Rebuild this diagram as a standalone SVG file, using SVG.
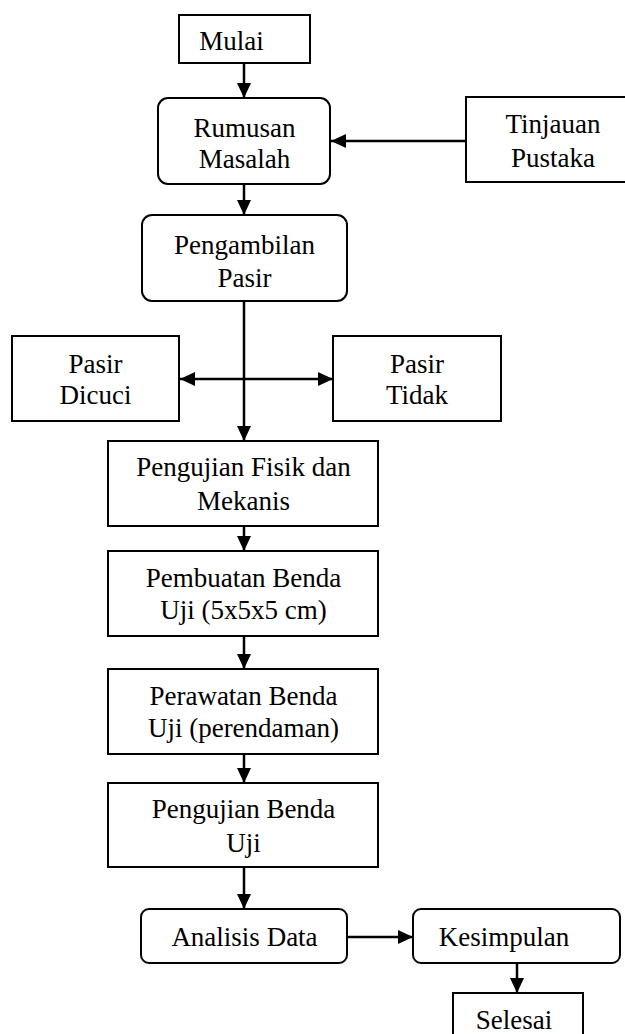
<svg xmlns="http://www.w3.org/2000/svg" width="625" height="1034" viewBox="0 0 625 1034">
<style>
  .box { fill: #ffffff; stroke: #000000; stroke-width: 2; }
  .lbl { font-family: "Liberation Serif", "Times New Roman", serif; font-size: 27px; fill: #000000; text-anchor: middle; }
  .con { stroke: #000000; stroke-width: 2.5; fill: none; }
</style>
<defs>
  <marker id="arr" viewBox="0 0 15 14" refX="15" refY="7" markerWidth="15" markerHeight="14" markerUnits="userSpaceOnUse" orient="auto-start-reverse">
    <path d="M0,0 L15,7 L0,14 Z" fill="#000000"/>
  </marker>
</defs>
<rect width="625" height="1034" fill="#ffffff"/>

<g id="connectors">
  <line class="con" x1="244" y1="63" x2="244" y2="98" marker-end="url(#arr)"/>
  <line class="con" x1="466" y1="141" x2="331" y2="141" marker-end="url(#arr)"/>
  <line class="con" x1="244" y1="184" x2="244" y2="215" marker-end="url(#arr)"/>
  <line class="con" x1="244" y1="301" x2="244" y2="441" marker-end="url(#arr)"/>
  <line class="con" x1="180" y1="379" x2="333" y2="379" marker-start="url(#arr)" marker-end="url(#arr)"/>
  <line class="con" x1="244" y1="526" x2="244" y2="551" marker-end="url(#arr)"/>
  <line class="con" x1="244" y1="636" x2="244" y2="669" marker-end="url(#arr)"/>
  <line class="con" x1="244" y1="754" x2="244" y2="783" marker-end="url(#arr)"/>
  <line class="con" x1="244" y1="867" x2="244" y2="909" marker-end="url(#arr)"/>
  <line class="con" x1="347" y1="937" x2="413" y2="937" marker-end="url(#arr)"/>
  <line class="con" x1="517" y1="963" x2="517" y2="993" marker-end="url(#arr)"/>
</g>

<g id="mulai">
  <rect class="box" x="179" y="15" width="131" height="48"/>
  <text class="lbl" x="231.5" y="50">Mulai</text>
</g>
<g id="rumusan">
  <rect class="box" x="158" y="98" width="172" height="86" rx="10"/>
  <text class="lbl" x="244.5" y="137">Rumusan</text>
  <text class="lbl" x="244.5" y="168">Masalah</text>
</g>
<g id="tinjauan">
  <rect class="box" x="466" y="97" width="174" height="85"/>
  <text class="lbl" x="553" y="133">Tinjauan</text>
  <text class="lbl" x="553" y="167">Pustaka</text>
</g>
<g id="pengambilan">
  <rect class="box" x="142" y="215" width="205" height="86" rx="10"/>
  <text class="lbl" x="244.5" y="254">Pengambilan</text>
  <text class="lbl" x="244.5" y="287">Pasir</text>
</g>
<g id="pasir-dicuci">
  <rect class="box" x="12" y="336" width="167" height="85"/>
  <text class="lbl" x="95.5" y="373">Pasir</text>
  <text class="lbl" x="95.5" y="404">Dicuci</text>
</g>
<g id="pasir-tidak">
  <rect class="box" x="333" y="336" width="168" height="85"/>
  <text class="lbl" x="417" y="373">Pasir</text>
  <text class="lbl" x="417" y="404">Tidak</text>
</g>
<g id="pengujian-fisik">
  <rect class="box" x="108" y="441" width="270" height="85"/>
  <text class="lbl" x="243.5" y="476">Pengujian Fisik dan</text>
  <text class="lbl" x="243.5" y="510">Mekanis</text>
</g>
<g id="pembuatan">
  <rect class="box" x="108" y="551" width="270" height="85"/>
  <text class="lbl" x="243.5" y="587">Pembuatan Benda</text>
  <text class="lbl" x="243.5" y="619">Uji (5x5x5 cm)</text>
</g>
<g id="perawatan">
  <rect class="box" x="108" y="669" width="270" height="85"/>
  <text class="lbl" x="243.5" y="705">Perawatan Benda</text>
  <text class="lbl" x="243.5" y="737">Uji (perendaman)</text>
</g>
<g id="pengujian-benda">
  <rect class="box" x="108" y="783" width="270" height="84"/>
  <text class="lbl" x="243.5" y="818">Pengujian Benda</text>
  <text class="lbl" x="243.5" y="852">Uji</text>
</g>
<g id="analisis">
  <rect class="box" x="141" y="909" width="206" height="54" rx="8"/>
  <text class="lbl" x="244.5" y="946">Analisis Data</text>
</g>
<g id="kesimpulan">
  <rect class="box" x="413" y="909" width="207" height="54" rx="8"/>
  <text class="lbl" x="504" y="946">Kesimpulan</text>
</g>
<g id="selesai">
  <rect class="box" x="453" y="993" width="130" height="50"/>
  <text class="lbl" x="514" y="1029">Selesai</text>
</g>
</svg>
